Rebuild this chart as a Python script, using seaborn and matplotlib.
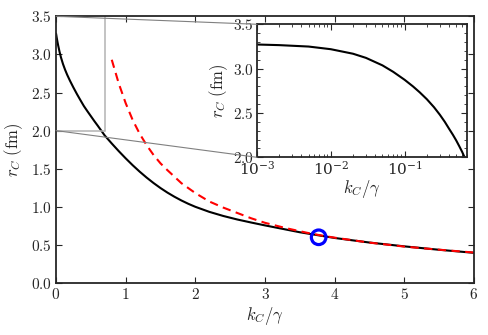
import numpy as np
import pandas as pd
import matplotlib
matplotlib.use("Agg")
import matplotlib.pyplot as plt
import seaborn as sns
from matplotlib.patches import ConnectionPatch
from matplotlib.ticker import MultipleLocator, FuncFormatter, LogLocator

# ---- data ----
k_black = [0.001, 0.002, 0.005, 0.01, 0.02, 0.03, 0.05, 0.07, 0.1, 0.13, 0.16, 0.2,
           0.25, 0.3, 0.35, 0.4, 0.45, 0.5, 0.55, 0.6, 0.65, 0.7, 0.8, 0.9, 1.0,
           1.1, 1.2, 1.3, 1.4, 1.5, 1.6, 1.7, 1.8, 1.9, 2.0, 2.2, 2.4, 2.6, 2.8,
           3.0, 3.5, 4.0, 4.5, 5.0, 5.5, 6.0]
r_black = [3.272, 3.265, 3.249, 3.219, 3.168, 3.121, 3.037, 2.964, 2.874, 2.799, 2.733, 2.655,
           2.565, 2.48, 2.40, 2.322, 2.255, 2.19, 2.125, 2.063, 1.999, 1.935, 1.831, 1.731, 1.636,
           1.546, 1.462, 1.384, 1.312, 1.246, 1.186, 1.132, 1.083, 1.039, 1.0, 0.934, 0.88, 0.834, 0.794,
           0.756, 0.666, 0.591, 0.531, 0.481, 0.436, 0.396]
k_red = [0.8, 0.9, 1.0, 1.1, 1.2, 1.3, 1.4, 1.5, 1.6, 1.8, 2.0, 2.2, 2.4, 2.6, 2.8,
         3.0, 3.3, 3.6, 3.8, 4.0, 4.5, 5.0, 5.5, 6.0]
r_red = [2.93, 2.62, 2.36, 2.14, 1.96, 1.81, 1.68, 1.57, 1.48, 1.31, 1.18, 1.07, 0.99,
         0.92, 0.85, 0.79, 0.72, 0.66, 0.625, 0.595, 0.53, 0.478, 0.437, 0.40]
k_mark = [3.77]
r_mark = [0.60]
zoom_k = [0.0, 0.7]
zoom_r = [2.0, 3.5]

black = pd.DataFrame({"k": k_black, "r": r_black})
red = pd.DataFrame({"k": k_red, "r": r_red})
mark = pd.DataFrame({"k": k_mark, "r": r_mark})

sns.set_style("ticks")
plt.rcParams.update({
    "mathtext.fontset": "cm",
    "font.family": ["DejaVu Serif"],
    "xtick.direction": "in",
    "ytick.direction": "in",
    "xtick.top": True,
    "ytick.right": True,
    "axes.linewidth": 1.3,
    "font.size": 11,
})

fig = plt.figure(figsize=(4.88, 3.35), dpi=100)
ax = fig.add_axes([0.1148, 0.1552, 0.8565, 0.7961])

sns.lineplot(data=black, x="k", y="r", ax=ax, color="black", lw=1.5, sort=False)
sns.lineplot(data=red, x="k", y="r", ax=ax, color="red", lw=1.5, sort=False,
             linestyle=(0, (4.0, 2.6)))
sns.scatterplot(data=mark, x="k", y="r", ax=ax, s=110, facecolor="none",
                edgecolor="blue", linewidth=2.3, zorder=5)

# zoom rectangle
ax.plot([zoom_k[1], zoom_k[1]], [zoom_r[0], zoom_r[1]], color="0.7", lw=1.1)
ax.plot([zoom_k[0], zoom_k[1]], [zoom_r[0], zoom_r[0]], color="0.7", lw=1.1)

ax.set_xlim(0, 6)
ax.set_ylim(0, 3.5)
ax.xaxis.set_major_locator(MultipleLocator(1))
ax.yaxis.set_major_locator(MultipleLocator(0.5))
ax.xaxis.set_major_formatter(FuncFormatter(lambda v, p: f"${v:.0f}$"))
ax.yaxis.set_major_formatter(FuncFormatter(lambda v, p: f"${v:.1f}$"))
ax.tick_params(length=4, width=0.8, labelsize=11, pad=3)
ax.set_xlabel(r"$k_C/\gamma$", fontsize=12, labelpad=2)
ax.set_ylabel(r"$r_C\ \mathrm{(fm)}$", fontsize=12, labelpad=4)

# inset
axin = fig.add_axes([0.5266, 0.5304, 0.4304, 0.3971])
sns.lineplot(data=black, x="k", y="r", ax=axin, color="black", lw=1.5, sort=False)
axin.set_xscale("log")
axin.set_xlim(1e-3, zoom_k[1])
axin.set_ylim(zoom_r[0], zoom_r[1])
axin.yaxis.set_major_locator(MultipleLocator(0.5))
axin.yaxis.set_minor_locator(MultipleLocator(0.1))
axin.yaxis.set_major_formatter(FuncFormatter(lambda v, p: f"${v:.1f}$"))
axin.xaxis.set_major_locator(LogLocator(base=10, numticks=10))
axin.xaxis.set_minor_locator(LogLocator(base=10, subs=np.arange(2, 10), numticks=10))
axin.tick_params(which="major", length=4, width=0.8, labelsize=11, pad=2)
axin.tick_params(which="minor", length=2, width=0.6)
axin.set_xlabel(r"$k_C/\gamma$", fontsize=12, labelpad=0)
axin.set_ylabel(r"$r_C\ \mathrm{(fm)}$", fontsize=12, labelpad=2)

# connectors
for yv, ya in [(zoom_r[1], 1), (zoom_r[0], 0)]:
    con = ConnectionPatch(xyA=(0, yv), coordsA=ax.transData,
                          xyB=(0, ya), coordsB=axin.transAxes,
                          color="0.5", lw=0.8)
    fig.add_artist(con)

fig.savefig("out.png", dpi=100)
